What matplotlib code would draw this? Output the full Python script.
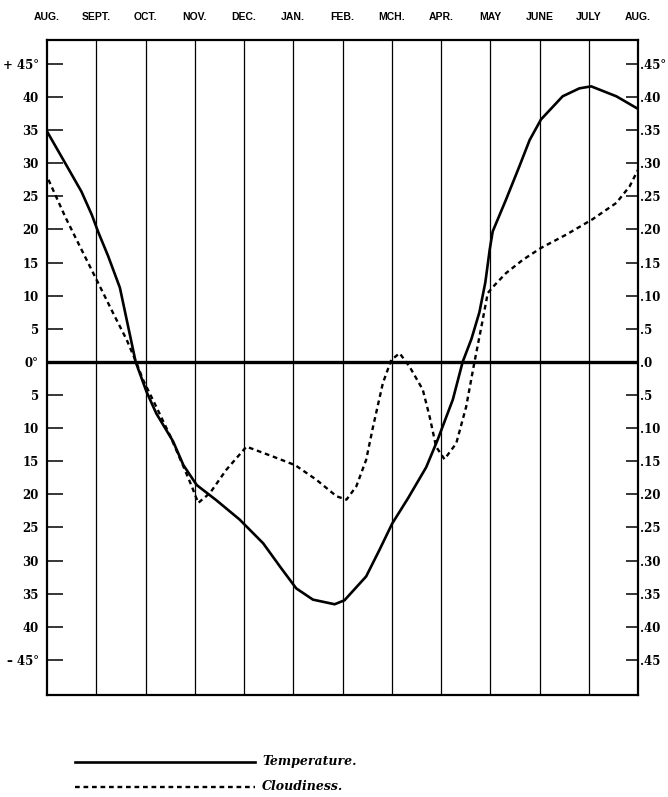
import matplotlib
matplotlib.use("Agg")
import matplotlib.pyplot as plt
from matplotlib.lines import Line2D

# ---- data -------------------------------------------------------------
months = ["AUG.", "SEPT.", "OCT.", "NOV.", "DEC.", "JAN.", "FEB.", "MCH.",
          "APR.", "MAY", "JUNE", "JULY", "AUG."]

left_tick_vals = [45, 40, 35, 30, 25, 20, 15, 10, 5, 0,
                  -5, -10, -15, -20, -25, -30, -35, -40, -45]
left_tick_labels = ["+ 45°", "40", "35", "30", "25", "20", "15", "10", "5", "0°",
                    "5", "10", "15", "20", "25", "30", "35", "40", "– 45°"]
right_tick_labels = [".45°", ".40", ".35", ".30", ".25", ".20", ".15", ".10", ".5", ".0",
                     ".5", ".10", ".15", ".20", ".25", ".30", ".35", ".40", ".45"]

temp_x = [0.00, 0.37, 0.70, 0.91, 1.04, 1.24, 1.48, 1.62, 1.80, 2.02, 2.22,
          2.56, 2.77, 3.04, 3.44, 3.91, 4.39, 4.73, 5.06, 5.40, 5.84, 6.04,
          6.48, 6.75, 7.01, 7.33, 7.70, 7.93, 8.24, 8.44, 8.62, 8.78, 8.90,
          8.99, 9.05, 9.32, 9.59, 9.80, 10.03, 10.47, 10.81, 11.05, 11.56, 12.00]
temp_y = [34.8, 30.0, 25.7, 22.2, 19.6, 16.0, 11.2, 6.3, 0.0, -4.5, -7.8,
          -12.0, -15.6, -18.6, -20.9, -23.8, -27.4, -30.9, -34.2, -35.9, -36.6, -36.0,
          -32.4, -28.4, -24.4, -20.6, -15.9, -11.8, -5.7, 0.0, 3.5, 7.5, 12.0,
          17.0, 19.7, 24.5, 29.5, 33.5, 36.6, 40.1, 41.3, 41.6, 40.1, 38.2]

cloud_x = [0.03, 0.37, 0.67, 1.04, 1.34, 1.62, 1.82, 1.95, 2.22, 2.49, 2.77,
           2.94, 3.07, 3.31, 3.64, 4.05, 4.59, 5.04, 5.47, 5.88, 6.08, 6.28,
           6.48, 6.62, 6.82, 6.99, 7.16, 7.36, 7.63, 7.77, 7.90, 8.07, 8.31,
           8.51, 8.68, 8.82, 8.95, 9.09, 9.32, 9.66, 10.03, 10.54, 11.07, 11.56,
           11.83, 12.00]
cloud_y = [27.5, 21.9, 17.4, 11.9, 7.4, 3.3, -0.2, -2.7, -6.8, -11.0, -15.8,
           -18.8, -21.3, -19.8, -16.3, -12.8, -14.3, -15.6, -17.8, -20.3, -20.8, -18.8,
           -14.8, -9.8, -3.2, 0.3, 1.3, -0.7, -4.2, -8.3, -12.8, -14.7, -12.3,
           -6.8, 0.0, 5.3, 10.4, 11.6, 13.4, 15.4, 17.2, 19.2, 21.5, 24.0,
           26.5, 29.0]

# ---- figure -----------------------------------------------------------
W, H = 668, 797
fig = plt.figure(figsize=(W / 100, H / 100), dpi=100)
fig.patch.set_facecolor("white")

ax_l, ax_r, ax_t, ax_b = 47, 638, 40, 695
ax = fig.add_axes([ax_l / W, 1 - ax_b / H, (ax_r - ax_l) / W, (ax_b - ax_t) / H])
ax.set_xlim(0, 12)
ax.set_ylim(-50.3, 48.6)

for s in ax.spines.values():
    s.set_linewidth(1.6)
    s.set_color("black")

# month lines
for i in range(1, 12):
    ax.axvline(i, color="black", lw=0.9, zorder=1)
ax.axhline(0, color="black", lw=2.4, zorder=2)

ax.plot(temp_x, temp_y, color="black", lw=1.9, solid_joinstyle="round",
        solid_capstyle="round", zorder=3)
ax.plot(cloud_x, cloud_y, color="black", lw=1.7, linestyle=(0, (2.0, 1.6)), zorder=3)

# x labels on top
ax.set_xticks(range(13))
ax.set_xticklabels(months, fontfamily="Liberation Sans", fontweight="bold", fontsize=7.5)
ax.xaxis.tick_top()
ax.tick_params(axis="x", length=0, pad=13)

serif = "DejaVu Serif"
ax.set_yticks(left_tick_vals)
ax.set_yticklabels(left_tick_labels, fontfamily=serif, fontweight="bold", fontsize=8.5)
ax.tick_params(axis="y", direction="in", length=11.5, width=1.1, pad=6)

ax2 = ax.twinx()
ax2.set_ylim(ax.get_ylim())
ax2.set_yticks(left_tick_vals)
ax2.set_yticklabels(right_tick_labels, fontfamily=serif, fontweight="bold", fontsize=8.5)
ax2.tick_params(axis="y", direction="in", length=9, width=1.1, pad=1.5)
for s in ax2.spines.values():
    s.set_visible(False)

# legend
y1 = 1 - 762 / H
y2 = 1 - 787 / H
fig.add_artist(Line2D([75 / W, 255 / W], [y1, y1], color="black", lw=1.9,
                      transform=fig.transFigure))
fig.add_artist(Line2D([75 / W, 255 / W], [y2, y2], color="black", lw=1.7,
                      linestyle=(0, (2.0, 1.6)), transform=fig.transFigure))
fig.text(262 / W, y1, "Temperature.", fontfamily=serif, fontstyle="italic",
         fontweight="bold", fontsize=9, va="center", ha="left")
fig.text(262 / W, y2, "Cloudiness.", fontfamily=serif, fontstyle="italic",
         fontweight="bold", fontsize=9, va="center", ha="left")

fig.savefig("out.png", dpi=100, facecolor="white")
